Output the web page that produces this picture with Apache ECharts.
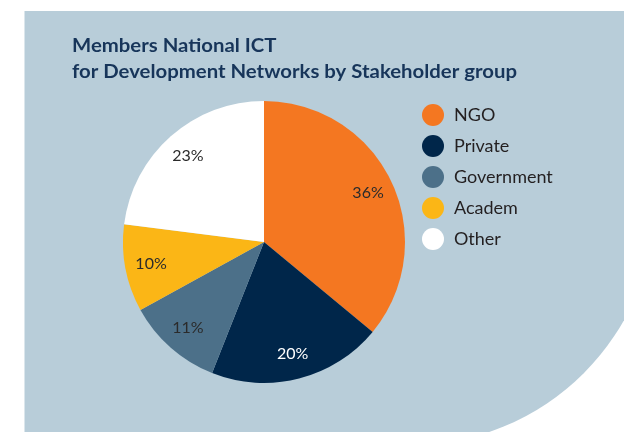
<!DOCTYPE html>
<html>
<head>
<meta charset="utf-8">
<script src="https://cdn.jsdelivr.net/npm/echarts@6/dist/echarts.min.js"></script>
<style>
  html, body { margin: 0; padding: 0; background: #fff; }
  #chart { width: 624px; height: 432px; }
</style>
</head>
<body>
<div id="chart"></div>
<script>
// stakeholder groups and their share of members (%)
var categories = ['NGO', 'Private', 'Government', 'Academ', 'Other']
var shares = [36, 20, 11, 10, 23]
var titleLines = ['Members National ICT', 'for Development Networks by Stakeholder group']

var sliceColors = ['#f47721', '#00264a', '#4c7089', '#fbb616', '#ffffff']
var labelColors = ['#2b2b2b', '#ffffff', '#2b2b2b', '#2b2b2b', '#2b2b2b']

var titleFont = 'bold 19px Lato, sans-serif'
// fit Lato to the width of the original (condensed) title face
var ctx = document.createElement('canvas').getContext('2d')
ctx.font = titleFont
var titleScale = 445 / ctx.measureText(titleLines[1]).width

var chart = echarts.init(document.getElementById('chart'))

var sliceData = categories.map(function (name, i) {
  return { name: name, value: shares[i], itemStyle: { color: sliceColors[i] } }
})
var labelData = categories.map(function (name, i) {
  return { name: name, value: shares[i], label: { color: labelColors[i] } }
})

chart.setOption({
  animation: false,
  graphic: [
    {
      type: 'rect',
      z: -10,
      shape: { x: 24.5, y: 11, width: 631, height: 434, r: [0, 0, 245, 0] },
      style: { fill: '#b8cdd9' }
    },
    {
      type: 'text',
      x: 72,
      y: 46,
      scaleX: titleScale,
      style: { text: titleLines[0], font: titleFont, fill: '#17355a', verticalAlign: 'middle' }
    },
    {
      type: 'text',
      x: 72,
      y: 72,
      scaleX: titleScale,
      style: { text: titleLines[1], font: titleFont, fill: '#17355a', verticalAlign: 'middle' }
    }
  ],
  legend: {
    orient: 'vertical',
    left: 417,
    top: 99,
    icon: 'circle',
    itemWidth: 22,
    itemHeight: 22,
    itemGap: 9,
    data: categories,
    selectedMode: false,
    textStyle: {
      fontFamily: 'Lato, sans-serif',
      fontSize: 18,
      color: '#231f20',
      padding: [0, 0, 0, 5]
    }
  },
  series: [
    {
      type: 'pie',
      center: [264, 242],
      radius: [0, 141],
      startAngle: 90,
      clockwise: true,
      silent: true,
      label: { show: false },
      labelLine: { show: false },
      data: sliceData
    },
    {
      // transparent ring only used to place the percentage labels further out
      type: 'pie',
      center: [264, 242],
      radius: [83, 141],
      startAngle: 90,
      clockwise: true,
      silent: true,
      itemStyle: { color: 'rgba(0,0,0,0)' },
      label: {
        show: true,
        position: 'inside',
        formatter: '{c}%',
        fontFamily: 'Lato, sans-serif',
        fontSize: 16
      },
      labelLine: { show: false },
      data: labelData
    }
  ]
})
</script>
</body>
</html>
